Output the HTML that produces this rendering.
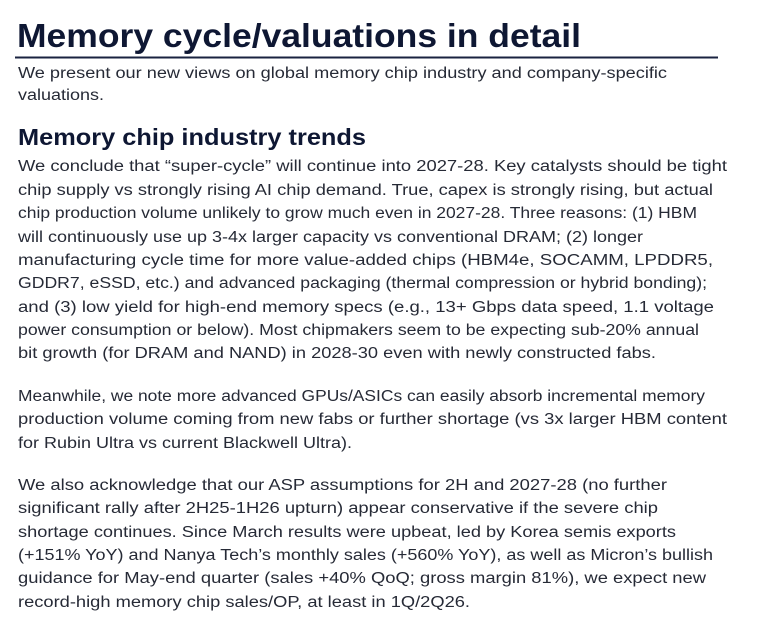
<!DOCTYPE html>
<html><head><meta charset="utf-8"><style>
html,body{margin:0;padding:0;background:#fff;width:763px;height:622px;overflow:hidden}
svg{display:block}
text{font-family:"Liberation Sans",sans-serif;fill:#262a36;font-size:15.5px}
.t{font-weight:bold;fill:#0e1733;font-size:33px}
.h{font-weight:bold;fill:#0e1733;font-size:23px}
</style></head><body>
<svg width="763" height="622" xmlns="http://www.w3.org/2000/svg">
<text class="t" x="17" y="47" textLength="564" lengthAdjust="spacingAndGlyphs">Memory cycle/valuations in detail</text>
<rect x="15" y="56.5" width="703" height="2" fill="#1a2340"/>
<text x="18" y="78" textLength="649" lengthAdjust="spacingAndGlyphs">We present our new views on global memory chip industry and company-specific</text>
<text x="18" y="100" textLength="86" lengthAdjust="spacingAndGlyphs">valuations.</text>
<text class="h" x="18" y="145" textLength="348" lengthAdjust="spacingAndGlyphs">Memory chip industry trends</text>
<text x="18" y="171" textLength="709" lengthAdjust="spacingAndGlyphs">We conclude that “super-cycle” will continue into 2027-28. Key catalysts should be tight</text>
<text x="18" y="195" textLength="695" lengthAdjust="spacingAndGlyphs">chip supply vs strongly rising AI chip demand. True, capex is strongly rising, but actual</text>
<text x="18" y="218" textLength="679" lengthAdjust="spacingAndGlyphs">chip production volume unlikely to grow much even in 2027-28. Three reasons: (1) HBM</text>
<text x="18" y="242" textLength="625" lengthAdjust="spacingAndGlyphs">will continuously use up 3-4x larger capacity vs conventional DRAM; (2) longer</text>
<text x="18" y="265" textLength="695" lengthAdjust="spacingAndGlyphs">manufacturing cycle time for more value-added chips (HBM4e, SOCAMM, LPDDR5,</text>
<text x="18" y="288" textLength="689" lengthAdjust="spacingAndGlyphs">GDDR7, eSSD, etc.) and advanced packaging (thermal compression or hybrid bonding);</text>
<text x="18" y="312" textLength="696" lengthAdjust="spacingAndGlyphs">and (3) low yield for high-end memory specs (e.g., 13+ Gbps data speed, 1.1 voltage</text>
<text x="18" y="335" textLength="681" lengthAdjust="spacingAndGlyphs">power consumption or below). Most chipmakers seem to be expecting sub-20% annual</text>
<text x="18" y="358" textLength="638" lengthAdjust="spacingAndGlyphs">bit growth (for DRAM and NAND) in 2028-30 even with newly constructed fabs.</text>
<text x="18" y="401" textLength="687" lengthAdjust="spacingAndGlyphs">Meanwhile, we note more advanced GPUs/ASICs can easily absorb incremental memory</text>
<text x="18" y="424" textLength="709" lengthAdjust="spacingAndGlyphs">production volume coming from new fabs or further shortage (vs 3x larger HBM content</text>
<text x="18" y="448" textLength="334" lengthAdjust="spacingAndGlyphs">for Rubin Ultra vs current Blackwell Ultra).</text>
<text x="18" y="490" textLength="649" lengthAdjust="spacingAndGlyphs">We also acknowledge that our ASP assumptions for 2H and 2027-28 (no further</text>
<text x="18" y="513" textLength="640" lengthAdjust="spacingAndGlyphs">significant rally after 2H25-1H26 upturn) appear conservative if the severe chip</text>
<text x="18" y="537" textLength="658" lengthAdjust="spacingAndGlyphs">shortage continues. Since March results were upbeat, led by Korea semis exports</text>
<text x="18" y="560" textLength="695" lengthAdjust="spacingAndGlyphs">(+151% YoY) and Nanya Tech’s monthly sales (+560% YoY), as well as Micron’s bullish</text>
<text x="18" y="583" textLength="688" lengthAdjust="spacingAndGlyphs">guidance for May-end quarter (sales +40% QoQ; gross margin 81%), we expect new</text>
<text x="18" y="607" textLength="452" lengthAdjust="spacingAndGlyphs">record-high memory chip sales/OP, at least in 1Q/2Q26.</text>
</svg>
</body></html>
